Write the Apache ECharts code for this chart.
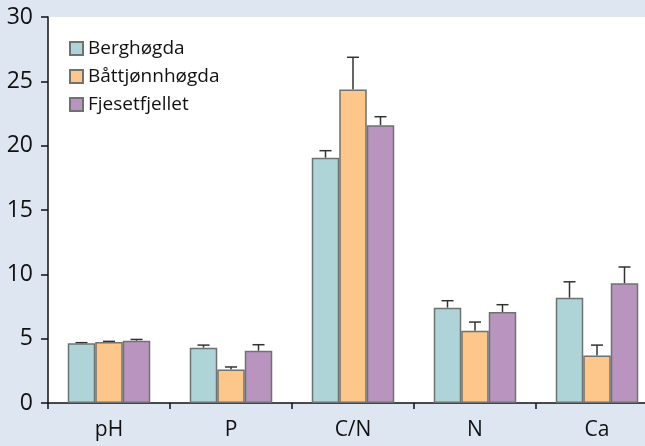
<!DOCTYPE html>
<html>
<head>
<meta charset="utf-8">
<script src="https://cdn.jsdelivr.net/npm/echarts@6/dist/echarts.min.js"></script>
<style>
html,body{margin:0;padding:0;background:#dde6f1;overflow:hidden;}
#chart{width:658px;height:446px;}
</style>
</head>
<body>
<div id="chart"></div>
<script>
var categories=['pH','P','C/N','N','Ca'];
var names=['Berghøgda','Båttjønnhøgda','Fjesetfjellet'];
var berg=[4.64,4.3,19.06,7.41,8.18];
var batt=[4.74,2.6,24.37,5.62,3.7];
var fjes=[4.84,4.06,21.58,7.07,9.3];
var bergErr=[0.05,0.2,0.55,0.54,1.24];
var battErr=[0.05,0.2,2.5,0.67,0.8];
var fjesErr=[0.1,0.47,0.67,0.57,1.27];
var yTicks=[0,5,10,15,20,25,30];

var colors=['#aed4d8','#fdc68b','#b894bf'];
var barW=27.5;
var fnt='"Open Sans", sans-serif';

var myChart=echarts.init(document.getElementById('chart'));

function errSeries(vals,errs,off){
	var data=[];
	for(var i=0;i<vals.length;i++){data.push([i,vals[i],vals[i]+errs[i]]);}
	return {
		type:'custom',
		silent:true,
		z:1,
		data:data,
		renderItem:function(params,api){
			var lo=api.coord([api.value(0),api.value(1)]);
			var hi=api.coord([api.value(0),api.value(2)]);
			var x=lo[0]+off;
			var st={stroke:'#333',lineWidth:1.5};
			return {type:'group',children:[
				{type:'line',shape:{x1:x,y1:lo[1],x2:x,y2:hi[1]},style:st},
				{type:'line',shape:{x1:x-6,y1:hi[1],x2:x+6,y2:hi[1]},style:st}
			]};
		}
	};
}

function barSeries(name,vals,c){
	return {
		name:name,
		type:'bar',
		barWidth:barW,
		barGap:'0%',
		z:2,
		itemStyle:{color:c,borderColor:'#6f7272',borderWidth:1.5},
		data:vals
	};
}

var option={
	animation:false,
	backgroundColor:'#dde6f1',
	grid:{left:48,right:0,top:17,bottom:43,show:true,backgroundColor:'#ffffff',borderWidth:0},
	legend:{
		orient:'vertical',
		left:64,
		top:34,
		itemWidth:13,
		itemHeight:13,
		itemGap:9,
		icon:'rect',
		data:names,
		textStyle:{fontFamily:fnt,fontSize:19,color:'#111'}
	},
	xAxis:{
		type:'category',
		data:categories,
		axisLine:{lineStyle:{color:'#111',width:1.5}},
		axisTick:{show:true,length:6,lineStyle:{color:'#111',width:1.5}},
		axisLabel:{fontFamily:fnt,fontSize:21,color:'#111',margin:17}
	},
	yAxis:{
		type:'value',
		min:yTicks[0],
		max:yTicks[yTicks.length-1],
		interval:5,
		axisLine:{show:true,lineStyle:{color:'#111',width:1.5}},
		axisTick:{show:true,length:7,lineStyle:{color:'#111',width:1.5}},
		splitLine:{show:false},
		axisLabel:{fontFamily:fnt,fontSize:23,color:'#111',margin:15}
	},
	series:[
		barSeries(names[0],berg,colors[0]),
		barSeries(names[1],batt,colors[1]),
		barSeries(names[2],fjes,colors[2]),
		errSeries(berg,bergErr,-barW),
		errSeries(batt,battErr,0),
		errSeries(fjes,fjesErr,barW)
	]
};
myChart.setOption(option);
</script>
</body>
</html>
